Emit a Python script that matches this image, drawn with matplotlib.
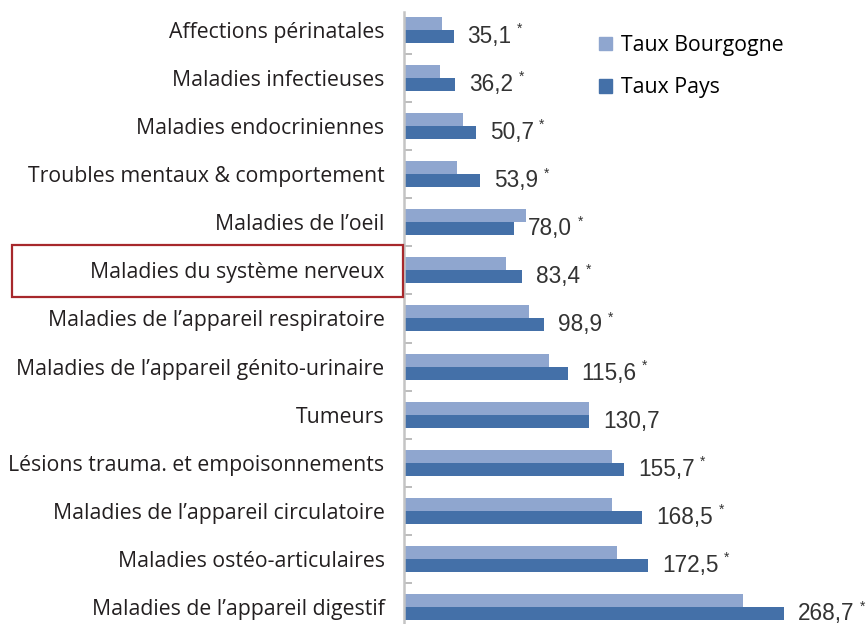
import matplotlib
matplotlib.use("Agg")
import matplotlib.pyplot as plt
import numpy as np
from matplotlib.patches import Patch, Rectangle
from matplotlib.transforms import blended_transform_factory

categories = [
    "Affections périnatales",
    "Maladies infectieuses",
    "Maladies endocriniennes",
    "Troubles mentaux & comportement",
    "Maladies de l\u2019oeil",
    "Maladies du système nerveux",
    "Maladies de l\u2019appareil respiratoire",
    "Maladies de l\u2019appareil génito-urinaire",
    "Tumeurs",
    "Lésions trauma. et empoisonnements",
    "Maladies de l\u2019appareil circulatoire",
    "Maladies ostéo-articulaires",
    "Maladies de l\u2019appareil digestif",
]
taux_bourgogne = [26.9, 25.5, 41.7, 37.5, 86.3, 72.0, 88.4, 102.5, 130.8, 146.9, 147.0, 150.7, 239.5]
taux_pays = [35.1, 36.2, 50.7, 53.9, 78.0, 83.4, 98.9, 115.6, 130.7, 155.7, 168.5, 172.5, 268.7]
significant = [True, True, True, True, True, True, True, True, False, True, True, True, True]
highlight = "Maladies du système nerveux"

LIGHT = "#8fa6cf"
DARK = "#4470a8"
LABEL_FONT = ["Open Sans", "DejaVu Sans"]

fig = plt.figure(figsize=(8.68, 6.24), dpi=100)
ax = fig.add_axes([404 / 868, 0.0, 1 - 404 / 868, 1 - 12 / 624])

y = np.arange(len(categories))
h = 0.27
ax.barh(y - h / 2, taux_bourgogne, height=h, color=LIGHT, label="Taux Bourgogne")
ax.barh(y + h / 2, taux_pays, height=h, color=DARK, label="Taux Pays")

ax.set_xlim(0, 328)
ax.set_ylim(12.35, -0.37)

for s in ["top", "right", "bottom"]:
    ax.spines[s].set_visible(False)
ax.spines["left"].set_color("#c4c4c4")
ax.spines["left"].set_linewidth(1.8)
ax.set_xticks([])
ax.set_yticks(y)
ax.set_yticklabels(categories, fontsize=15.3, family=LABEL_FONT, color="#231f20")
ax.tick_params(axis="y", which="major", length=0, pad=14)
ax.set_yticks(y[:-1] + 0.5, minor=True)
ax.tick_params(axis="y", which="minor", direction="in", length=6, width=1.2,
               color="#b0b0b0")

for i, (v, star) in enumerate(zip(taux_pays, significant)):
    t = ax.annotate(f"{v:.1f}".replace(".", ","), xy=(v, i + h / 2),
                    xytext=(10, 0), textcoords="offset points", va="center",
                    ha="left", fontsize=16.3, family="Liberation Sans", color="#333333",
                    annotation_clip=False)
    if star:
        ax.annotate("*", xy=(1, 1), xycoords=t, xytext=(4, 2),
                    textcoords="offset points", va="top", ha="left",
                    fontsize=10, family="Liberation Sans", color="#333333")

handles = [Patch(color=LIGHT), Patch(color=DARK)]
fig.legend(handles, ["Taux Bourgogne", "Taux Pays"], loc="upper left",
           bbox_to_anchor=(580 / 868, 1 - 16 / 624), frameon=False,
           prop={"family": LABEL_FONT, "size": 15.3}, handlelength=0.6,
           handleheight=0.6, handletextpad=0.45, labelspacing=1.0)

# red box around the highlighted category
trans = blended_transform_factory(fig.transFigure, ax.transData)
k = categories.index(highlight)
box = Rectangle((12 / 868, k - 0.52), (403 - 12) / 868, 1.08, transform=trans,
                fill=False, edgecolor="#a7282c", linewidth=1.6, clip_on=False)
fig.add_artist(box)

fig.savefig("out.png", dpi=100)
